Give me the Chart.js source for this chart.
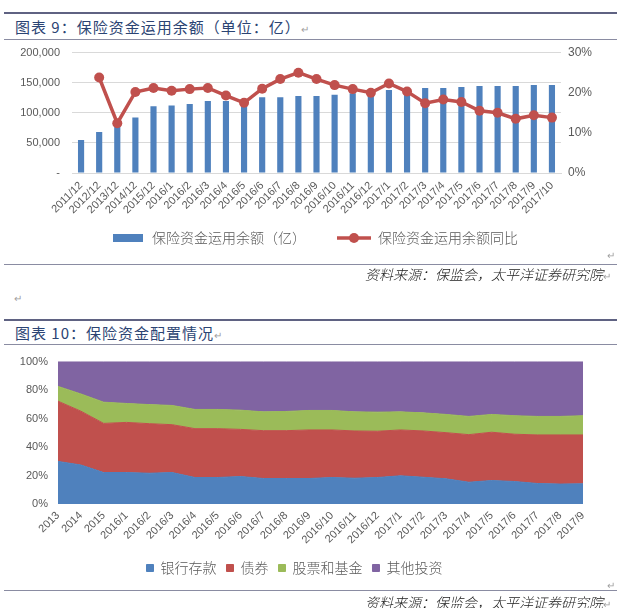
<!DOCTYPE html>
<html><head><meta charset="utf-8">
<script src="https://cdn.jsdelivr.net/npm/chart.js@4.4.1/dist/chart.umd.min.js"></script>
<style>
html,body{margin:0;padding:0;background:#fff;width:617px;height:608px;overflow:hidden;position:relative;font-family:"Noto Sans CJK SC",sans-serif;}
.rule{position:absolute;left:4px;width:613px;background:#5f6282;}
.title{position:absolute;left:15px;font-size:15px;color:#2b4473;letter-spacing:1px;line-height:18px;white-space:nowrap;}
.src{position:absolute;right:6px;font-size:14px;font-style:italic;color:#1a1a1a;line-height:16px;white-space:nowrap;font-weight:300;}
.ret{color:#a0a0a0;font-size:10px;font-style:normal;letter-spacing:0;}
.reta{position:absolute;color:#a0a0a0;font-size:10px;line-height:10px;}
.box{position:absolute;left:6px;width:617px;}
</style></head><body>
<div class="rule" style="top:12px;height:2px"></div>
<div class="title" style="top:18px">图表 9：保险资金运用余额（单位：亿）<span class="ret">↵</span></div>
<div class="rule" style="top:39px;height:1px;background:#8a8ca2"></div>
<div class="box" style="top:34px;height:221px"><canvas id="c1"></canvas></div>
<div class="reta" style="left:607px;top:250px">↵</div>
<div class="rule" style="top:264px;height:1px;background:#8a8ca2"></div>
<div class="src" style="top:266px">资料来源：保监会，太平洋证券研究院<span class="ret">↵</span></div>
<div class="reta" style="left:14px;top:293px">↵</div>
<div class="rule" style="top:319px;height:2px"></div>
<div class="title" style="top:324px">图表 10：保险资金配置情况<span class="ret">↵</span></div>
<div class="rule" style="top:344px;height:1px;background:#8a8ca2"></div>
<div class="box" style="top:345px;height:240px"><canvas id="c2"></canvas></div>
<div class="reta" style="left:607px;top:580px">↵</div>
<div class="rule" style="top:590px;height:1px;background:#8a8ca2"></div>
<div class="src" style="top:594px">资料来源：保监会，太平洋证券研究院<span class="ret">↵</span></div>
<script>
// ---------- Chart 9 data ----------
const months1 = ['2011/12','2012/12','2013/12','2014/12','2015/12',
  '2016/1','2016/2','2016/3','2016/4','2016/5','2016/6','2016/7','2016/8','2016/9','2016/10','2016/11','2016/12',
  '2017/1','2017/2','2017/3','2017/4','2017/5','2017/6','2017/7','2017/8','2017/9','2017/10'];
const balance = [55000, 68000, 77000, 92000, 111000,
  112000, 114500, 119500, 119500, 120000, 126000, 126000, 128000, 128000, 129800, 132500, 134000,
  138000, 138500, 141000, 141000, 143000, 144500, 144500, 144600, 146000, 146000];
const yoy = [null, 23.8, 12.4, 20.2, 21.2,
  20.5, 20.9, 21.2, 19.3, 17.5, 21.0, 23.4, 25.0, 23.4, 21.9, 20.9, 20.0,
  22.3, 20.3, 17.4, 18.3, 17.7, 15.5, 15.0, 13.5, 14.4, 13.8];
const series1 = ['保险资金运用余额（亿）', '保险资金运用余额同比'];

// ---------- Chart 10 data ----------
const periods2 = ['2013','2014','2015',
  '2016/1','2016/2','2016/3','2016/4','2016/5','2016/6','2016/7','2016/8','2016/9','2016/10','2016/11','2016/12',
  '2017/1','2017/2','2017/3','2017/4','2017/5','2017/6','2017/7','2017/8','2017/9'];
const deposits = [29.9, 27.4, 22.1, 22.1, 21.6, 22.1, 18.6, 18.6, 19.3, 17.9, 17.9, 17.9, 18.6, 18.1, 18.6, 19.8, 18.8, 17.7, 15.3, 16.5, 15.8, 14.4, 14.0, 14.2];
const bonds    = [42.3, 37.8, 34.5, 35.2, 34.8, 33.6, 34.3, 34.3, 33.1, 33.6, 33.6, 34.1, 33.4, 33.2, 32.5, 32.2, 32.5, 32.4, 33.4, 33.9, 33.2, 34.1, 34.5, 34.3];
const equities = [10.4, 12.1, 14.9, 13.3, 13.4, 13.5, 13.5, 13.5, 13.5, 13.2, 13.5, 13.7, 13.7, 13.4, 13.4, 12.7, 12.7, 12.8, 12.8, 12.5, 13.0, 13.0, 13.0, 13.5];
const others   = [17.4, 22.7, 28.5, 29.4, 30.2, 30.8, 33.6, 33.6, 34.1, 35.3, 35.0, 34.3, 34.3, 35.3, 35.5, 35.3, 36.0, 37.1, 38.5, 37.1, 38.0, 38.5, 38.5, 38.0];
const series2 = ['银行存款', '债券', '股票和基金', '其他投资'];
const colors2 = ['#4F81BD', '#C0504D', '#9BBB59', '#8064A2'];

const TICK = '#595959';
const tickFont = {family: 'Liberation Sans', size: 11};
const legendFont = {family: 'Noto Sans CJK SC', size: 14, weight: 300};

// legend icons
function barIcon() {
  const c = document.createElement('canvas'); c.width = 30; c.height = 8;
  const x = c.getContext('2d'); x.fillStyle = '#4F81BD'; x.fillRect(0, 0, 30, 8); return c;
}
function lineIcon() {
  const c = document.createElement('canvas'); c.width = 34; c.height = 12;
  const x = c.getContext('2d'); x.strokeStyle = '#C0504D'; x.lineWidth = 3.5;
  x.beginPath(); x.moveTo(0, 6); x.lineTo(34, 6); x.stroke();
  x.fillStyle = '#C0504D'; x.beginPath(); x.arc(17, 6, 5, 0, Math.PI * 2); x.fill(); return c;
}
const icons = [barIcon(), lineIcon()];

new Chart(document.getElementById('c1'), {
  data: {
    labels: months1,
    datasets: [
      {type: 'bar', label: series1[0], data: balance, yAxisID: 'y', backgroundColor: '#4F81BD',
       barPercentage: 0.34, categoryPercentage: 1, order: 2},
      {type: 'line', label: series1[1], data: yoy, yAxisID: 'y1', borderColor: '#C0504D', backgroundColor: '#C0504D',
       borderWidth: 3.5, pointRadius: 5, pointBackgroundColor: '#C0504D', pointBorderWidth: 0, tension: 0, order: 1, spanGaps: false}
    ]
  },
  options: {
    responsive: true, maintainAspectRatio: false, animation: false,
    layout: {padding: {top: 0, bottom: 0, left: 0, right: 0}},
    plugins: {
      tooltip: {enabled: false},
      legend: {
        position: 'bottom',
        labels: {
          font: legendFont, color: TICK, padding: 10, usePointStyle: true,
          generateLabels: () => [
            {text: series1[0] + '\u3000\u3000', pointStyle: icons[0], fillStyle: '#4F81BD', strokeStyle: 'rgba(0,0,0,0)', lineWidth: 0, datasetIndex: 0, fontColor: TICK},
            {text: series1[1], pointStyle: icons[1], fillStyle: '#C0504D', strokeStyle: 'rgba(0,0,0,0)', lineWidth: 0, datasetIndex: 1, fontColor: TICK}
          ],
          pointStyleWidth: 34
        }
      }
    },
    scales: {
      x: {
        grid: {display: false, drawTicks: false},
        border: {display: true, color: '#D9D9D9'},
        ticks: {color: TICK, font: tickFont, minRotation: 45, maxRotation: 45, padding: 6, autoSkip: false},
        afterFit: s => { s.height = 48; }
      },
      y: {
        position: 'left', min: 0, max: 200000,
        grid: {color: '#D9D9D9', drawTicks: false},
        border: {display: false},
        ticks: {stepSize: 50000, color: TICK, font: tickFont, padding: 12,
          callback: v => v === 0 ? '-' : v.toLocaleString('en-US')},
        afterFit: s => { s.width = 66; }
      },
      y1: {
        position: 'right', min: 0, max: 30,
        grid: {display: false, drawTicks: false},
        border: {display: false},
        ticks: {stepSize: 10, color: TICK, font: {family: 'Liberation Sans', size: 12}, padding: 7, callback: v => v + '%'},
        afterFit: s => { s.width = 62; }
      }
    }
  }
});

new Chart(document.getElementById('c2'), {
  type: 'line',
  data: {
    labels: periods2,
    datasets: [deposits, bonds, equities, others].map((d, i) => ({
      label: series2[i], data: d, backgroundColor: colors2[i], borderColor: colors2[i],
      borderWidth: 1, pointRadius: 0, tension: 0, fill: i === 0 ? 'origin' : '-1'
    }))
  },
  options: {
    responsive: true, maintainAspectRatio: false, animation: false,
    layout: {padding: {top: 0, bottom: 0, left: 0, right: 40}},
    plugins: {
      tooltip: {enabled: false},
      filler: {propagate: false},
      legend: {
        position: 'bottom',
        labels: {font: legendFont, color: TICK, padding: 10, boxWidth: 7, boxHeight: 7}
      }
    },
    scales: {
      x: {
        offset: false,
        grid: {display: false, drawTicks: false},
        border: {display: false},
        ticks: {color: TICK, font: tickFont, minRotation: 45, maxRotation: 45, padding: 5, autoSkip: false},
        afterFit: s => { s.height = 47; }
      },
      y: {
        stacked: true, min: 0, max: 100,
        grid: {display: false, drawTicks: false},
        border: {display: false},
        ticks: {stepSize: 20, color: TICK, font: tickFont, padding: 10, callback: v => v + '%'},
        afterFit: s => { s.width = 52; }
      }
    }
  }
});
</script>
</body></html>
